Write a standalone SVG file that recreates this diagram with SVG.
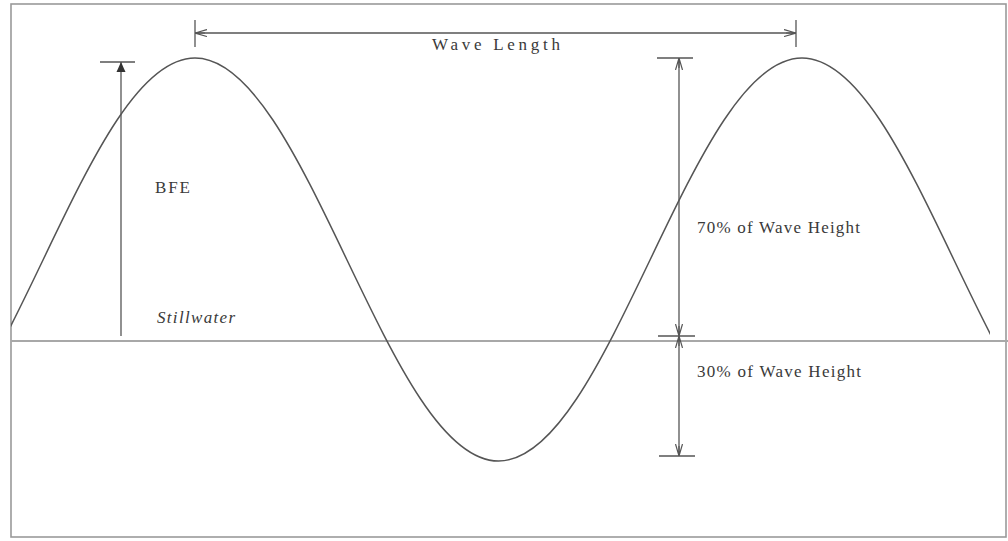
<svg xmlns="http://www.w3.org/2000/svg" width="1008" height="541" viewBox="0 0 1008 541">
  <style>
    .lbl { font-family: "Liberation Serif", "Times New Roman", serif; font-size: 17px; fill: #3a3a3a; }
    .it { font-style: italic; }
    .dim { stroke: #555; stroke-width: 1.3; fill: none; }
    .tick { stroke: #555; stroke-width: 1.3; }
  </style>
  <defs>
    <marker id="openArrow" viewBox="0 0 12 8" refX="12" refY="4" markerWidth="12" markerHeight="8" markerUnits="userSpaceOnUse" orient="auto-start-reverse">
      <path d="M0,0.5 L12,4 L0,7.5 M12,4 L2,4" fill="none" stroke="#555" stroke-width="1.2"/>
    </marker>
    <marker id="solidArrow" viewBox="0 0 10 10" refX="10" refY="5" markerWidth="10" markerHeight="10" markerUnits="userSpaceOnUse" orient="auto">
      <path d="M0,0.5 L10,5 L0,9.5 Z" fill="#333"/>
    </marker>
    <clipPath id="frameClip">
      <rect x="11" y="0" width="979" height="541"/>
    </clipPath>
  </defs>

  <rect width="1008" height="541" fill="#ffffff"/>

  <g id="frame">
    <rect x="11" y="4" width="995" height="533" fill="none" stroke="#9a9a9a" stroke-width="1.6"/>
  </g>

  <g id="stillwater-line">
    <line x1="11" y1="341" x2="1008" y2="341" stroke="#a8a8a8" stroke-width="2"/>
  </g>

  <g id="wave" clip-path="url(#frameClip)">
    <path d="M-108.5,461 C-53.58,461 -6.24,362.73 43.25,259.5 C92.74,156.27 140.08,58 195,58 C249.92,58 297.26,156.27 346.75,259.5 C396.24,362.73 443.58,461 498.5,461 C553.42,461 600.76,362.73 650.25,259.5 C699.74,156.27 747.08,58 802,58 C856.92,58 904.26,156.27 953.75,259.5 C1003.24,362.73 1050.58,461 1105.5,461" fill="none" stroke="#555" stroke-width="1.5"/>
  </g>

  <g id="connectors">
    <line class="tick" x1="195" y1="20" x2="195" y2="47"/>
    <line class="tick" x1="796" y1="20" x2="796" y2="47"/>
    <line class="dim" x1="195" y1="33" x2="796" y2="33" marker-start="url(#openArrow)" marker-end="url(#openArrow)"/>
    <line class="tick" x1="100" y1="62" x2="135" y2="62"/>
    <line class="dim" x1="121" y1="336" x2="121" y2="62" marker-end="url(#solidArrow)"/>
    <line class="tick" x1="657" y1="58" x2="693" y2="58"/>
    <line class="tick" x1="658" y1="336" x2="695" y2="336"/>
    <line class="dim" x1="679" y1="58" x2="679" y2="336" marker-start="url(#openArrow)" marker-end="url(#openArrow)"/>
    <line class="tick" x1="659" y1="456" x2="695" y2="456"/>
    <line class="dim" x1="679" y1="336" x2="679" y2="456" marker-start="url(#openArrow)" marker-end="url(#openArrow)"/>
  </g>

  <g id="label-wave-length">
    <text class="lbl" x="432" y="50" textLength="128" lengthAdjust="spacing">Wave Length</text>
  </g>
  <g id="label-bfe">
    <text class="lbl" x="155" y="193" textLength="35" lengthAdjust="spacing">BFE</text>
  </g>
  <g id="label-stillwater">
    <text class="lbl it" x="157" y="323" textLength="78" lengthAdjust="spacing">Stillwater</text>
  </g>
  <g id="label-70">
    <text class="lbl" x="697" y="233" textLength="163" lengthAdjust="spacing">70% of Wave Height</text>
  </g>
  <g id="label-30">
    <text class="lbl" x="697" y="377" textLength="164" lengthAdjust="spacing">30% of Wave Height</text>
  </g>
</svg>
